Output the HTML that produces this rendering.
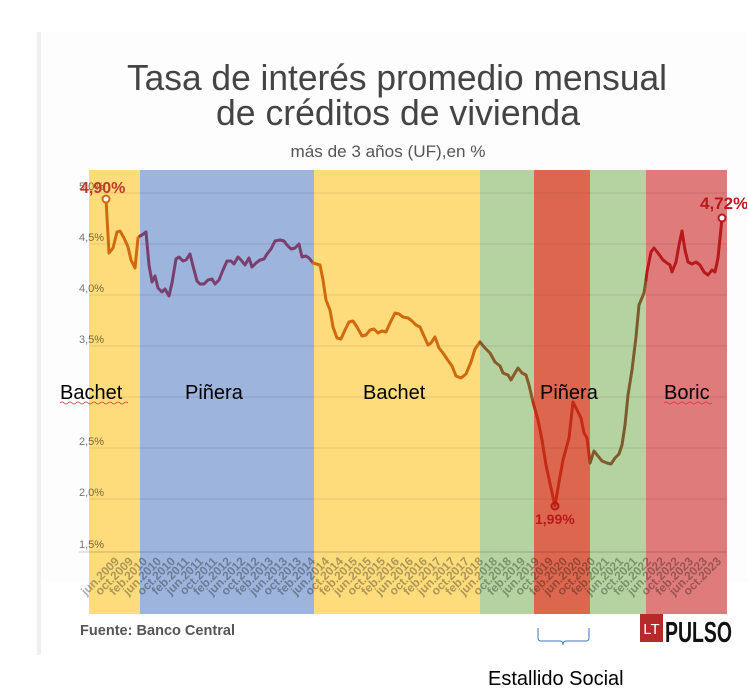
<!DOCTYPE html>
<html><head><meta charset="utf-8"><style>
html,body{margin:0;padding:0;background:#fff;}
svg{display:block;}
</style></head><body>
<svg width="747" height="697" viewBox="0 0 747 697" xmlns="http://www.w3.org/2000/svg" font-family="Liberation Sans, sans-serif">
<rect x="37" y="32" width="710" height="623" fill="#fdfdfd"/>
<rect x="37" y="32" width="4" height="623" fill="#f0f0f0"/>
<rect x="41" y="583" width="706" height="72" fill="#fff"/>
<!-- title -->
<text x="397" y="90" text-anchor="middle" font-size="36" fill="#444" textLength="540" lengthAdjust="spacingAndGlyphs">Tasa de interés promedio mensual</text>
<text x="398" y="125" text-anchor="middle" font-size="36" fill="#444" textLength="364" lengthAdjust="spacingAndGlyphs">de créditos de vivienda</text>
<text x="388" y="157" text-anchor="middle" font-size="17" fill="#555" textLength="195" lengthAdjust="spacingAndGlyphs">más de 3 años (UF),en %</text>
<!-- bands -->
<rect x="89" y="170" width="51" height="444" fill="#fedc7c"/>
<rect x="140" y="170" width="174" height="444" fill="#9db4dc"/>
<rect x="314" y="170" width="166" height="444" fill="#fedc7c"/>
<rect x="480" y="170" width="54" height="444" fill="#b5d3a0"/>
<rect x="534" y="170" width="56" height="444" fill="#dd674e"/>
<rect x="590" y="170" width="56" height="444" fill="#b5d3a0"/>
<rect x="646" y="170" width="81" height="444" fill="#e07b7b"/>
<!-- grid -->
<g stroke="#000" stroke-opacity="0.1" stroke-width="1">
<line x1="89" y1="193" x2="727" y2="193"/>
<line x1="89" y1="244" x2="727" y2="244"/>
<line x1="89" y1="295" x2="727" y2="295"/>
<line x1="89" y1="346" x2="727" y2="346"/>
<line x1="89" y1="397" x2="727" y2="397"/>
<line x1="89" y1="448" x2="727" y2="448"/>
<line x1="89" y1="499" x2="727" y2="499"/>
<line x1="79" y1="552" x2="727" y2="552" stroke-opacity="0.2"/>
</g>
<!-- y labels -->
<g font-size="11" fill="#000" fill-opacity="0.55">
<text x="79" y="190">5,0%</text>
<text x="79" y="241">4,5%</text>
<text x="79" y="292">4,0%</text>
<text x="79" y="343">3,5%</text>
<text x="79" y="445">2,5%</text>
<text x="79" y="496">2,0%</text>
<text x="79" y="548">1,5%</text>
</g>
<!-- line -->
<g fill="none" stroke-width="3" stroke-linejoin="round" stroke-linecap="round">
<polyline stroke="#d0690f" points="106,199 109,253 113,248 117,232 120,231 124,238 128,247 131,260 135,268 138,238 140,236"/>
<polyline stroke="#7a3f6e" points="140,236 142,235 146,232 149,265 152,282 155,276 158,288 162,292 165,289 169,296 172,283 176,259 179,257 183,261 186,260 190,254 193,266 197,281 200,284 204,284 208,280 212,279 215,284 219,280 223,270 227,261 231,261 234,264 238,257 241,260 245,265 249,258 252,267 256,263 260,260 264,259 267,254 271,249 275,241 280,240 284,241 287,245 291,249 295,248 299,244 302,257 306,256 309,258 313,263"/>
<polyline stroke="#d0690f" points="313,263 320,265 323,280 326,300 330,310 333,327 337,338 341,339 345,330 349,322 353,321 357,327 362,336 366,335 370,330 374,329 378,333 382,331 386,332 390,323 395,313 399,314 403,317 408,318 412,321 416,325 420,327 424,336 428,345 431,343 435,337 439,348 443,353 447,359 452,366 456,376 461,378 466,374 471,362 475,349 480,342"/>
<polyline stroke="#8a5a2a" points="480,342 485,348 490,353 495,362 500,366 503,373 508,375 511,380 515,373 518,368 522,373 526,375 529,385 533,402"/>
<polyline stroke="#c52a14" points="533,402 538,420 542,440 546,465 551,488 555,506 559,482 563,460 569,438 573,402 577,410 581,418 584,433 587,438 590,463"/>
<polyline stroke="#7e5a2c" points="590,463 594,451 598,456 602,461 607,463 611,464 615,458 619,454 622,445 625,425 628,395 632,370 636,337 639,305 644,293 646,280"/>
<polyline stroke="#b8191a" points="646,280 647,272 651,252 654,248 658,253 663,260 667,263 670,265 672,272 676,262 679,245 682,231 685,250 688,262 692,264 696,262 700,265 704,272 708,275 712,270 715,272 718,258 722,218"/>
</g>
<circle cx="106" cy="199" r="3.5" fill="#fff" stroke="#d0690f" stroke-width="2"/>
<circle cx="555" cy="506" r="3.5" fill="none" stroke="#b8191a" stroke-width="2"/>
<circle cx="722" cy="218" r="3.5" fill="#fff" stroke="#b8191a" stroke-width="2"/>
<text x="80" y="193" font-size="16" fill="#c0392b" font-weight="bold">4,90%</text>
<text x="700" y="209" font-size="17" fill="#b8191a" font-weight="bold">4,72%</text>
<text x="535" y="524" font-size="14" fill="#b8191a" font-weight="bold">1,99%</text>
<!-- era labels -->
<g font-size="20" fill="#000">
<text x="60" y="399">Bachet</text>
<text x="185" y="399">Piñera</text>
<text x="363" y="399">Bachet</text>
<text x="540" y="399">Piñera</text>
<text x="664" y="399">Boric</text>
</g>
<path d="M664 403 q2 -2 4 0 t4 0 t4 0 t4 0 t4 0 t4 0 t4 0 t4 0 t4 0 t4 0 t4 0 t4 0" stroke="#d33" stroke-width="0.8" fill="none"/>
<path d="M60 403 q2 -2 4 0 t4 0 t4 0 t4 0 t4 0 t4 0 t4 0 t4 0 t4 0 t4 0 t4 0 t4 0 t4 0 t4 0 t4 0 t4 0 t4 0" stroke="#d33" stroke-width="0.8" fill="none"/>
<!-- x labels -->
<g font-size="12" font-weight="bold" fill="#000" fill-opacity="0.32" text-anchor="end">
<text transform="translate(120,562) rotate(-45)">jun.2009</text>
<text transform="translate(134,562) rotate(-45)">oct.2009</text>
<text transform="translate(148,562) rotate(-45)">feb.2010</text>
<text transform="translate(162,562) rotate(-45)">jun.2010</text>
<text transform="translate(176,562) rotate(-45)">oct.2010</text>
<text transform="translate(190,562) rotate(-45)">feb.2011</text>
<text transform="translate(204,562) rotate(-45)">jun.2011</text>
<text transform="translate(218,562) rotate(-45)">oct.2011</text>
<text transform="translate(232,562) rotate(-45)">feb.2012</text>
<text transform="translate(246,562) rotate(-45)">jun.2012</text>
<text transform="translate(260,562) rotate(-45)">oct.2012</text>
<text transform="translate(274,562) rotate(-45)">feb.2013</text>
<text transform="translate(288,562) rotate(-45)">jun.2013</text>
<text transform="translate(302,562) rotate(-45)">oct.2013</text>
<text transform="translate(316,562) rotate(-45)">feb.2014</text>
<text transform="translate(330,562) rotate(-45)">jun.2014</text>
<text transform="translate(344,562) rotate(-45)">oct.2014</text>
<text transform="translate(358,562) rotate(-45)">feb.2015</text>
<text transform="translate(372,562) rotate(-45)">jun.2015</text>
<text transform="translate(386,562) rotate(-45)">oct.2015</text>
<text transform="translate(400,562) rotate(-45)">feb.2016</text>
<text transform="translate(414,562) rotate(-45)">jun.2016</text>
<text transform="translate(428,562) rotate(-45)">oct.2016</text>
<text transform="translate(442,562) rotate(-45)">feb.2017</text>
<text transform="translate(456,562) rotate(-45)">jun.2017</text>
<text transform="translate(470,562) rotate(-45)">oct.2017</text>
<text transform="translate(484,562) rotate(-45)">feb.2018</text>
<text transform="translate(498,562) rotate(-45)">jun.2018</text>
<text transform="translate(512,562) rotate(-45)">oct.2018</text>
<text transform="translate(526,562) rotate(-45)">feb.2019</text>
<text transform="translate(540,562) rotate(-45)">jun.2019</text>
<text transform="translate(554,562) rotate(-45)">oct.2019</text>
<text transform="translate(568,562) rotate(-45)">feb.2020</text>
<text transform="translate(582,562) rotate(-45)">jun.2020</text>
<text transform="translate(596,562) rotate(-45)">oct.2020</text>
<text transform="translate(610,562) rotate(-45)">feb.2021</text>
<text transform="translate(624,562) rotate(-45)">jun.2021</text>
<text transform="translate(638,562) rotate(-45)">oct.2021</text>
<text transform="translate(652,562) rotate(-45)">feb.2022</text>
<text transform="translate(666,562) rotate(-45)">jun.2022</text>
<text transform="translate(680,562) rotate(-45)">oct.2022</text>
<text transform="translate(694,562) rotate(-45)">feb.2023</text>
<text transform="translate(708,562) rotate(-45)">jun.2023</text>
<text transform="translate(722,562) rotate(-45)">oct.2023</text>
</g>
<!-- footer -->
<text x="80" y="635" font-size="15" font-weight="bold" fill="#555" textLength="155" lengthAdjust="spacingAndGlyphs">Fuente: Banco Central</text>
<rect x="640" y="614" width="23" height="28" fill="#b52a2a"/>
<text x="651.5" y="634" font-size="15" fill="#fff" text-anchor="middle">LT</text>
<text x="665" y="642" font-size="29" font-weight="bold" fill="#111" textLength="67" lengthAdjust="spacingAndGlyphs">PULSO</text>
<path d="M538 628 L538 638 Q538 641 541 641 L560 641 Q563 641 563 645 Q563 641 566 641 L586 641 Q589 641 589 638 L589 628" stroke="#4472c4" stroke-width="1" fill="none"/>
<text x="488" y="685" font-size="20" fill="#000">Estallido Social</text>
</svg>
</body></html>
